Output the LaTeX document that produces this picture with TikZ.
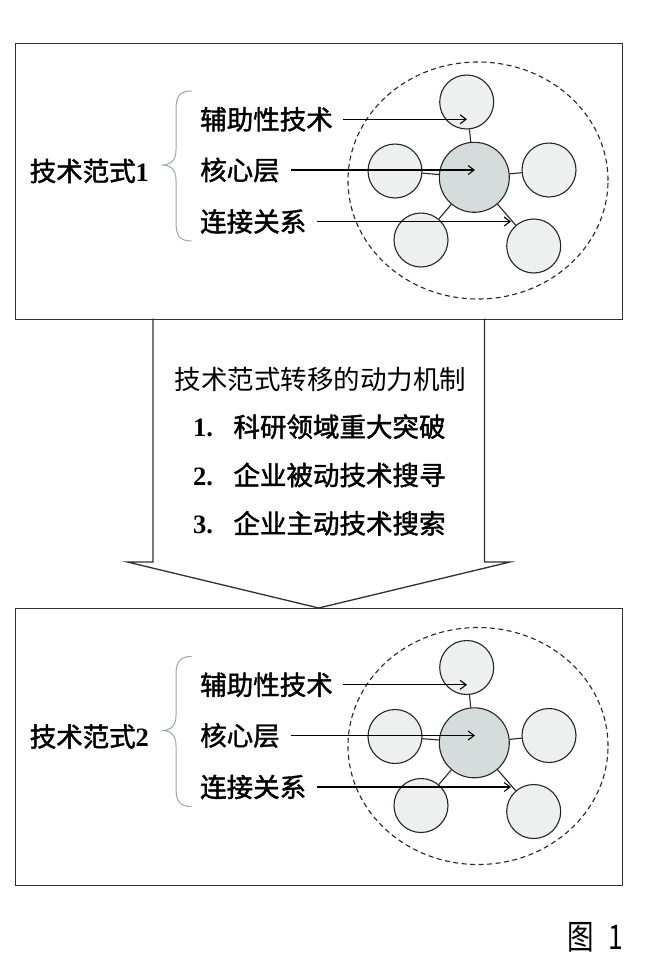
\documentclass[tikz,border=0pt]{standalone}
\usepackage{fontspec}
\setmainfont{Liberation Serif}
\newfontfamily\cjk{Noto Sans CJK SC}
\newfontfamily\cjkm[FakeBold=1.6]{Noto Sans CJK SC}
\usetikzlibrary{arrows.meta,shapes.geometric}
\definecolor{linegray}{HTML}{303030}
\definecolor{satfill}{HTML}{EEF0F0}
\definecolor{corefill}{HTML}{D5DCDC}
\definecolor{bracegray}{HTML}{9AA6AE}
\tikzset{
  frame/.style={draw=linegray, line width=1.3pt},
  sat/.style={circle, draw=black!85, line width=1.1pt, fill=satfill, minimum size=54pt, inner sep=0pt},
  core/.style={circle, draw=black!85, line width=1.1pt, fill=corefill, minimum size=70pt, inner sep=0pt},
  halo/.style={ellipse, draw=black!85, line width=1.1pt, dash pattern=on 5pt off 3.5pt, minimum width=260pt, minimum height=237pt, inner sep=0pt},
  link/.style={draw=black!85, line width=1.1pt},
  ptr/.style={draw=black, line width=1.1pt, -{Straight Barb[length=6pt,width=9pt,line width=1.1pt]}},
  lbl/.style={anchor=west, inner sep=0pt, font=\fontsize{26.5pt}{30pt}\selectfont\cjkm},
  mainlbl/.style={anchor=west, inner sep=0pt, font=\fontsize{26.5pt}{30pt}\selectfont},
  bracestyle/.style={draw=bracegray, line width=1pt},
}
\newcommand{\paradigm}[2]{%
  \begin{scope}[yshift=#1]
  \node[mainlbl] (p#2) at (29.5,171) {\cjkm 技术范式\rmfamily\bfseries #2};
  \draw[bracestyle] (191.7,91) .. controls (179,91) and (176,97) .. (176,110) -- (176,150)
     .. controls (176,160) and (171,165) .. (161.7,165)
     .. controls (171,165) and (176,170) .. (176,180) -- (176,222)
     .. controls (176,235) and (179,241) .. (191.7,241);
  \node[halo] (h#2) at (478,180.5) {};
  \node[core] (c#2) at (474.3,177.3) {};
  \node[sat] (s#2a) at (466.7,102) {};
  \node[sat] (s#2b) at (395,171) {};
  \node[sat] (s#2c) at (549,170) {};
  \node[sat] (s#2d) at (421,240) {};
  \node[sat] (s#2e) at (533.7,246) {};
  \foreach \s in {a,b,c,d,e} \draw[link] (c#2) -- (s#2\s);
  \node[lbl] (l#2a) at (200,119.3) {辅助性技术};
  \node[lbl] (l#2b) at (200,170) {核心层};
  \node[lbl] (l#2c) at (200,221.5) {连接关系};
  \coordinate (e#2a) at (467,119.3);
  \coordinate (e#2b) at (475,168);
  \coordinate (e#2c) at (511,221);
  \draw[ptr] ([xshift=10pt]l#2a.east) -- (l#2a.east -| e#2a);
  \draw[ptr] ([xshift=11pt]l#2b.east) -- (l#2b.east -| e#2b);
  \draw[ptr] ([xshift=11pt]l#2c.east) -- (l#2c.east -| e#2c);
  \end{scope}}
\begin{document}
\begin{tikzpicture}[x=1pt,y=-1pt]
\useasboundingbox (0,0) rectangle (646,962);
\fill[white] (0,0) rectangle (646,962);
% boxes
\node[frame, anchor=north west, minimum width=607pt, minimum height=276pt, inner sep=0pt] (box1) at (15,42.5) {};
\node[frame, anchor=north west, minimum width=607pt, minimum height=277pt, inner sep=0pt] (box2) at (15,608) {};
\paradigm{0pt}{1}
\paradigm{-565.5pt}{2}
% transfer arrow
\draw[frame, line join=miter] (153,318.5) -- (153,562) -- (127.4,562) -- (318.7,608) -- (510,562) -- (484.4,562) -- (484.4,318.5);
\node[anchor=west, inner sep=0pt, font=\fontsize{26.5pt}{30pt}\selectfont\cjk] (title) at (174.3,379) {技术范式转移的动力机制};
\node[mainlbl] (m1) at (193,426.7) {\makebox[40.3pt][l]{\bfseries 1.}\cjkm 科研领域重大突破};
\node[mainlbl] (m2) at (193,475) {\makebox[40.3pt][l]{\bfseries 2.}\cjkm 企业被动技术搜寻};
\node[mainlbl] (m3) at (193,523.3) {\makebox[40.3pt][l]{\bfseries 3.}\cjkm 企业主动技术搜索};
% caption
\node[inner sep=0pt] (cap) at (595.5,937) {\scalebox{0.78}[1]{\fontsize{34pt}{38pt}\selectfont\cjk 图\hspace{18pt}1}};
\end{tikzpicture}
\end{document}
